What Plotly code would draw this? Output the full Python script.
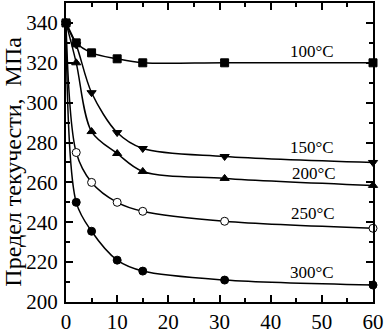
import plotly.graph_objects as go

time_min = [0, 2, 5, 10, 15, 31, 60]
ys_100 = [340, 330, 325, 322, 320, 320, 320]
ys_150 = [340, 329, 305, 285, 277, 273, 270]
ys_200 = [340, 320, 285.5, 274.5, 265.5, 262, 258.5]
ys_250 = [340, 275, 260, 250, 245.5, 240.5, 237]
ys_300 = [340, 250, 235.5, 221, 215.5, 211, 208.5]

labels = ["100°C", "150°C", "200°C", "250°C", "300°C"]
label_x = [48, 48, 48.5, 48.3, 48]
label_y = [325.5, 277.7, 264.5, 244.2, 214.7]

series = [
    (ys_100, "square", "black"),
    (ys_150, "triangle-down", "black"),
    (ys_200, "triangle-up", "black"),
    (ys_250, "circle", "white"),
    (ys_300, "circle", "black"),
]

fig = go.Figure()
for ys, sym, fill in series:
    fig.add_trace(go.Scatter(
        x=time_min, y=ys, mode="lines+markers",
        line=dict(color="black", width=1.5, shape="spline", smoothing=0.9),
        marker=dict(symbol=sym, size=8, color=fill, line=dict(color="black", width=1)),
        showlegend=False, cliponaxis=False,
    ))

for t, lx, ly in zip(labels, label_x, label_y):
    fig.add_annotation(x=lx, y=ly, text=t, showarrow=False,
                       font=dict(family="Liberation Serif", size=17, color="black"))

fig.add_annotation(xref="paper", yref="paper", x=-0.172, y=0.47,
                   xanchor="center", yanchor="middle",
                   text="Предел текучести,  МПа", textangle=-90, showarrow=False,
                   font=dict(family="Liberation Serif", size=24, color="black"))

axis_common = dict(
    showline=True, linecolor="black", linewidth=2, mirror="ticks",
    ticks="inside", ticklen=7, tickwidth=1.5, tickcolor="black",
    showgrid=False, zeroline=False,
    tickfont=dict(family="Liberation Serif", size=21, color="black"),
)

fig.update_xaxes(range=[0, 60], dtick=10, tick0=0,
                 minor=dict(dtick=5, ticks="inside", ticklen=4, tickcolor="black", tickwidth=1.5),
                 **axis_common)
fig.update_yaxes(range=[200, 350], dtick=20, tick0=200,
                 minor=dict(dtick=10, ticks="inside", ticklen=4, tickcolor="black", tickwidth=1.5),
                 ticklabelstandoff=2,
                 **axis_common)

fig.update_layout(
    width=386, height=335,
    margin=dict(l=66, r=13, t=1, b=23),
    plot_bgcolor="white", paper_bgcolor="white",
)

fig.write_html("out.html", config={"displayModeBar": False},
               post_script="document.body.style.margin='0px';document.body.style.overflow='hidden';")
